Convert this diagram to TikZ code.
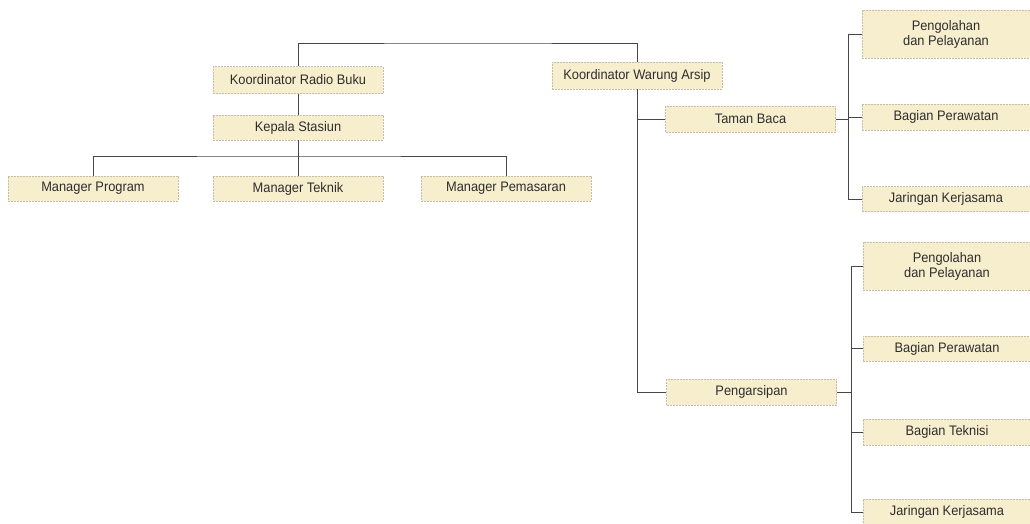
\documentclass[tikz,border=0pt]{standalone}
\usepackage{fontspec}
\setmainfont[FakeStretch=0.93]{Liberation Sans}
\definecolor{boxfill}{RGB}{247,238,206}
\definecolor{boxline}{RGB}{196,190,172}
\definecolor{conn}{RGB}{70,70,70}
\definecolor{txt}{RGB}{45,45,45}
\tikzset{
  unit/.style={draw=boxline, fill=boxfill, dash pattern=on 2pt off 1pt, line width=0.6pt,
    text=txt, font=\fontsize{13.8}{15}\selectfont, align=center, inner sep=0pt,
    minimum width=170pt, minimum height=26pt},
  tall/.style={minimum height=48pt},
  link/.style={draw=conn, line width=0.8pt}
}
\begin{document}
\begin{tikzpicture}[x=1pt,y=-1pt]
\useasboundingbox (0,0) rectangle (1030,523);
% left branch
\node[unit, minimum height=27pt] (kr) at (298,80) {Koordinator Radio Buku};
\node[unit, minimum height=25pt] (ks) at (298,127.5) {Kepala Stasiun};
\node[unit, minimum height=25pt] (mp) at (93,188.5) {Manager Program};
\node[unit, minimum height=25pt] (mt) at (298,188.5) {Manager Teknik};
\node[unit, minimum height=25pt] (mpe) at (506,188.5) {Manager Pemasaran};
% right branch
\node[unit, minimum height=27pt] (kw) at (637,75.5) {Koordinator Warung Arsip};
\node[unit] (tb) at (750.5,119) {Taman Baca};
\node[unit] (pg) at (751.5,392) {Pengarsipan};
\node[unit, tall, minimum width=168pt] (p1) at (946,34) {Pengolahan\\dan Pelayanan};
\node[unit, minimum width=168pt] (bp1) at (946,117) {Bagian Perawatan};
\node[unit, minimum width=168pt, minimum height=25pt] (jk1) at (946,199) {Jaringan Kerjasama};
\node[unit, tall, minimum width=168pt] (p2) at (947,266) {Pengolahan\\dan Pelayanan};
\node[unit, minimum width=168pt, minimum height=25pt] (bp2) at (947,348.5) {Bagian Perawatan};
\node[unit, minimum width=168pt] (bt) at (947,432) {Bagian Teknisi};
\node[unit, minimum width=168pt] (jk2) at (947,512) {Jaringan Kerjasama};
% coordinates
\coordinate (top) at (468,43);
\coordinate (bar) at (298,156);
\coordinate (t1) at (848,119);
\coordinate (t2) at (851,392);
% connectors
\draw[link] (kr.north) |- (top) -| (kw.north);
\draw[link] (kr.south) -- (ks.north);
\draw[link] (ks.south) -- (mt.north);
\draw[link] (mp.north) |- (bar) -| (mpe.north);
\draw[link] (kw.south) |- (pg.west);
\draw[link] (kw.south |- tb.west) -- (tb.west);
\draw[link] (tb.east) -- (t1);
\draw[link] (p1.west) -| (t1) |- (jk1.west);
\draw[link] (bp1.west) -- (bp1.west -| t1);
\draw[link] (pg.east) -- (t2);
\draw[link] (p2.west) -| (t2) |- (jk2.west);
\draw[link] (bp2.west) -- (bp2.west -| t2);
\draw[link] (bt.west) -- (bt.west -| t2);
\end{tikzpicture}
\end{document}
